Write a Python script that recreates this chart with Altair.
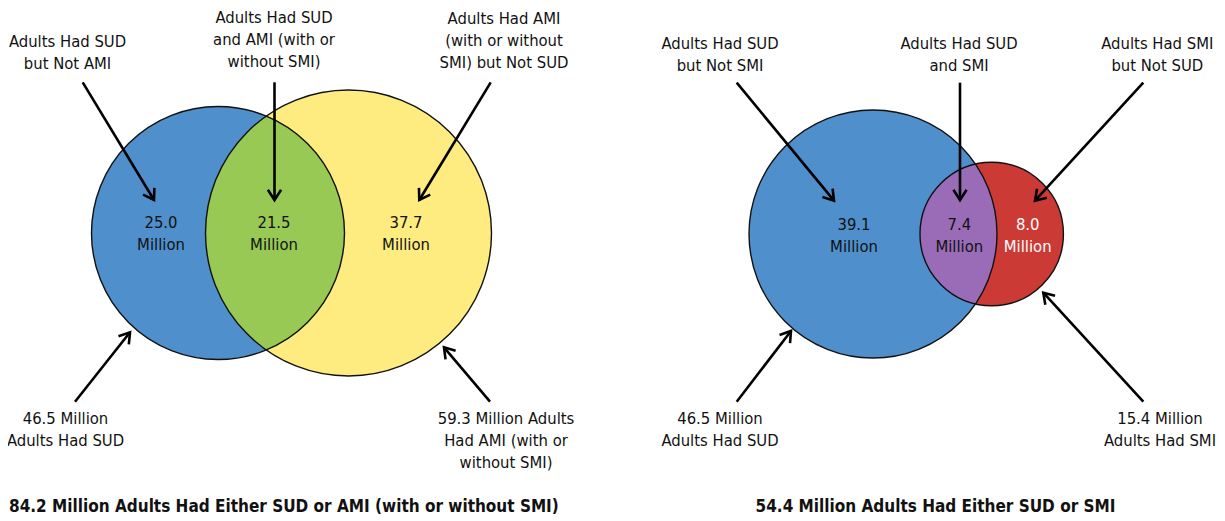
import math
import numpy as np
import pandas as pd
import altair as alt

# ---------------- data (millions of adults) ----------------
# Left diagram: substance use disorder (SUD) vs any mental illness (AMI)
left_part_values = [25.0, 21.5, 37.7]          # SUD only, both, AMI only
left_part_labels = [
    "Adults Had SUD\nbut Not AMI",
    "Adults Had SUD\nand AMI (with or\nwithout SMI)",
    "Adults Had AMI\n(with or without\nSMI) but Not SUD",
]
left_set_values = [46.5, 59.3]                 # SUD, AMI
left_set_labels = [
    "{v} Million\nAdults Had SUD",
    "{v} Million Adults\nHad AMI (with or\nwithout SMI)",
]
left_total = 84.2
left_title = "{v} Million Adults Had Either SUD or AMI (with or without SMI)"

# Right diagram: SUD vs serious mental illness (SMI)
right_part_values = [39.1, 7.4, 8.0]           # SUD only, both, SMI only
right_part_labels = [
    "Adults Had SUD\nbut Not SMI",
    "Adults Had SUD\nand SMI",
    "Adults Had SMI\nbut Not SUD",
]
right_set_values = [46.5, 15.4]                # SUD, SMI
right_set_labels = [
    "{v} Million\nAdults Had SUD",
    "{v} Million\nAdults Had SMI",
]
right_total = 54.4
right_title = "{v} Million Adults Had Either SUD or SMI"

# ---------------- layout (page pixels) ----------------
W, H = 1209, 513
FONT = "DejaVu Sans Condensed, Liberation Sans Narrow, Roboto Condensed, Roboto, sans-serif"
FS = 16.5
LH = 22

# text y values give the centre of the FIRST line of each block
PANELS = [
    dict(
        circles=[(218.0, 233.0, 126.5), (348.5, 233.0, 143.0)],
        fills=["#4F8FCB", "#FFEC80"], lens="#98C954",
        part_pos=[(161, 223), (274, 223), (406, 223)],
        part_colors=["#111111", "#111111", "#111111"],
        label_pos=[(67.5, 41.5), (274, 17.5), (504, 18.5)],
        set_pos=[(65.5, 418.5), (506, 418.5)],
        arrows=[((82.7, 82.3), (154, 200)), ((274.5, 82.3), (274.5, 200)),
                ((490.7, 82.3), (419.3, 200)), ((75, 401.7), (130, 332.3)),
                ((490, 401.7), (444, 347.3))],
        values=left_part_values, labels=left_part_labels,
        set_values=left_set_values, set_labels=left_set_labels,
    ),
    dict(
        circles=[(873.0, 234.0, 124.0), (991.7, 234.0, 71.7)],
        fills=["#4F8FCB", "#CC3A36"], lens="#9A6CB7",
        part_pos=[(854, 224.5), (959.3, 224.5), (1027.7, 224.5)],
        part_colors=["#111111", "#111111", "#FFFFFF"],
        label_pos=[(720, 43.5), (959, 43.5), (1157.3, 43.5)],
        set_pos=[(720, 418.5), (1160, 418.5)],
        arrows=[((736.7, 82.7), (834, 200.7)), ((960, 82.7), (960, 200)),
                ((1143.3, 82.7), (1035, 200.7)), ((736.7, 401.7), (791, 331)),
                ((1143.3, 401.7), (1043.3, 292.7))],
        values=right_part_values, labels=right_part_labels,
        set_values=right_set_values, set_labels=right_set_labels,
    ),
]

# ---------------- build tables ----------------
circ_rows, lens_rows, rule_rows, text_rows = [], [], [], []
for p, panel in enumerate(PANELS):
    for (cx, cy, r), col in zip(panel["circles"], panel["fills"]):
        circ_rows.append(dict(x=cx, y=cy, size=(2 * r) ** 2, fill=col))
    (c1, cy1, r1), (c2, cy2, r2) = panel["circles"]
    lo, hi = max(c1 - r1, c2 - r2), min(c1 + r1, c2 + r2)
    t = np.linspace(0, math.pi, 240)
    xs = (lo + hi) / 2 - (hi - lo) / 2 * np.cos(t)
    h1 = np.sqrt(np.clip(r1 ** 2 - (xs - c1) ** 2, 0, None))
    h2 = np.sqrt(np.clip(r2 ** 2 - (xs - c2) ** 2, 0, None))
    top = np.maximum(cy1 - h1, cy2 - h2)
    bot = np.minimum(cy1 + h1, cy2 + h2)
    for xv, tv, bv in zip(xs, top, bot):
        lens_rows.append(dict(x=xv, top=tv, bot=bv, fill=panel["lens"], panel=p))
    for (tx, ty), (hx, hy) in panel["arrows"]:
        ang = math.degrees(math.atan2(hx - tx, -(hy - ty))) % 360
        rule_rows.append(dict(x=tx, y=ty, x2=hx, y2=hy, ang=ang))
    for v, (x, y), c in zip(panel["values"], panel["part_pos"], panel["part_colors"]):
        text_rows.append(dict(x=x, y=y, t=f"{v:.1f}\nMillion", c=c))
    for lab, (x, y) in zip(panel["labels"], panel["label_pos"]):
        text_rows.append(dict(x=x, y=y, t=lab, c="#111111"))
    for v, lab, (x, y) in zip(panel["set_values"], panel["set_labels"], panel["set_pos"]):
        text_rows.append(dict(x=x, y=y, t=lab.format(v=f"{v:.1f}"), c="#111111"))

circ_df = pd.DataFrame(circ_rows)
lens_df = pd.DataFrame(lens_rows)
rule_df = pd.DataFrame(rule_rows)
text_df = pd.DataFrame(text_rows)
title_left_df = pd.DataFrame([dict(x=9, y=507, t=left_title.format(v=f"{left_total:.1f}"))])
title_right_df = pd.DataFrame([dict(x=935.5, y=507, t=right_title.format(v=f"{right_total:.1f}"))])

# ---------------- chart ----------------
xsc = alt.Scale(domain=[8, 8 + W], nice=False, zero=False)
ysc = alt.Scale(domain=[8, 8 + H], nice=False, zero=False, reverse=True)


def X(f="x"):
    return alt.X(f"{f}:Q", scale=xsc, axis=None)


def Y(f="y"):
    return alt.Y(f"{f}:Q", scale=ysc, axis=None)


fills = alt.Chart(circ_df).mark_point(shape="circle", filled=True, opacity=1, strokeWidth=0).encode(
    x=X(), y=Y(), size=alt.Size("size:Q", scale=None), color=alt.Color("fill:N", scale=None)
)
lens = alt.Chart(lens_df).mark_area(opacity=1).encode(
    x=X(), y=Y("top"), y2=alt.Y2("bot:Q"), color=alt.Color("fill:N", scale=None), detail="panel:N"
)
outlines = alt.Chart(circ_df).mark_point(
    shape="circle", filled=False, color="#111111", strokeWidth=1.4, opacity=1
).encode(x=X(), y=Y(), size=alt.Size("size:Q", scale=None))

shafts = alt.Chart(rule_df).mark_rule(color="#000000", strokeWidth=2.6).encode(
    x=X(), y=Y(), x2=alt.X2("x2:Q"), y2=alt.Y2("y2:Q")
)
ARROW = "M -0.55,0.85 L 0,0 L 0.55,0.85"
heads = alt.Chart(rule_df).mark_point(
    shape=ARROW, filled=False, color="#000000", strokeWidth=2.6, size=576, opacity=1,
    strokeJoin="miter", strokeCap="butt",
).encode(x=X("x2"), y=Y("y2"), angle=alt.Angle("ang:Q", scale=None))

texts = alt.Chart(text_df).mark_text(
    font=FONT, fontSize=FS, lineHeight=LH, lineBreak="\n", align="center", baseline="middle"
).encode(x=X(), y=Y(), text="t:N", color=alt.Color("c:N", scale=None))

title_l = alt.Chart(title_left_df).mark_text(
    font=FONT, fontSize=17, fontWeight="bold", align="left", baseline="middle", color="#111111"
).encode(x=X(), y=Y(), text="t:N")
title_r = alt.Chart(title_right_df).mark_text(
    font=FONT, fontSize=17, fontWeight="bold", align="center", baseline="middle", color="#111111"
).encode(x=X(), y=Y(), text="t:N")

chart = alt.layer(fills, lens, outlines, shafts, heads, texts, title_l, title_r).properties(
    width=W, height=H, padding=0, autosize=alt.AutoSizeParams(type="none")
).configure_view(stroke=None)

chart.save("out.html", embed_options={"renderer": "svg", "actions": False})
